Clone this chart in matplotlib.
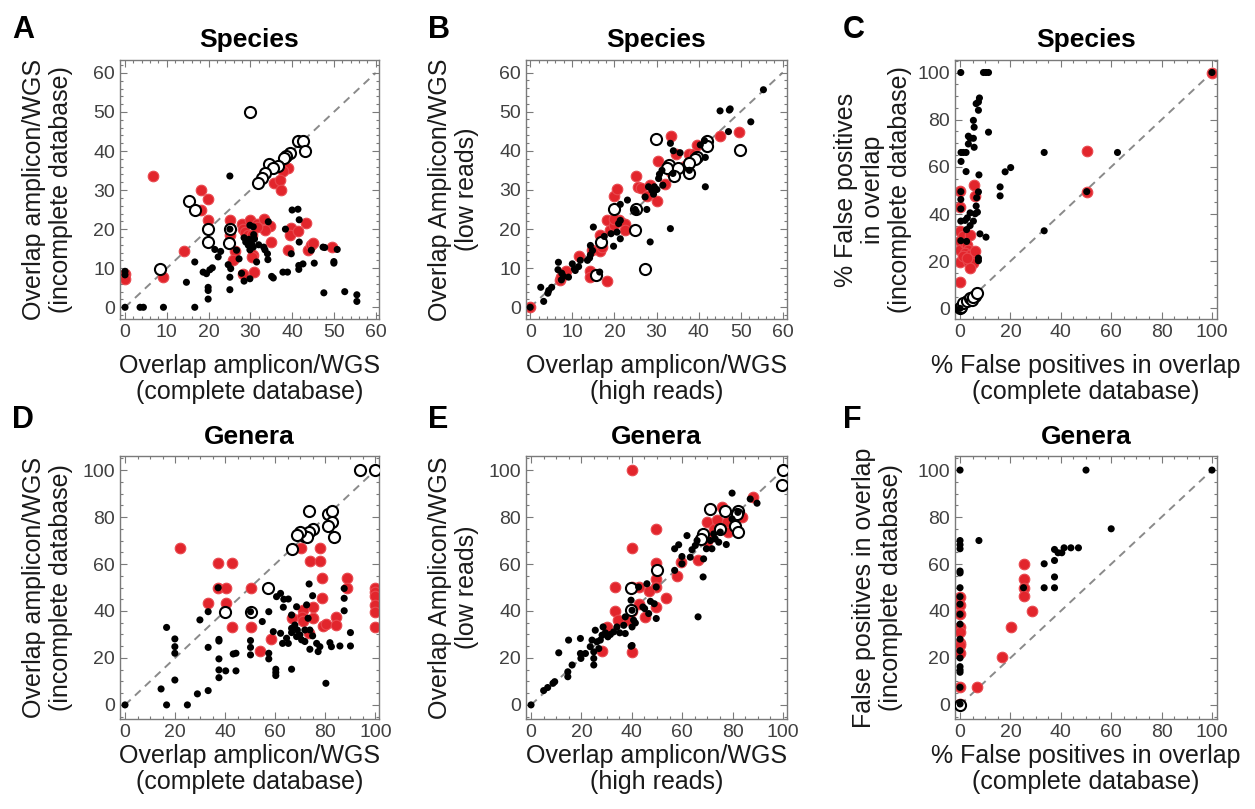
import matplotlib.pyplot as plt
from matplotlib.ticker import MultipleLocator

plt.rcParams['font.family'] = ['Liberation Sans', 'DejaVu Sans']

# ---- data: (x, y) pairs ----
# panel A: species, complete vs incomplete database
a_black = [(0, 0), (3.6, 0), (4.4, 0), (9.2, 0), (16.7, 0), (25.1, 33.6), (40, 24.9), (41.4, 25.1),
           (41.7, 22.4), (34.3, 21.9), (38.4, 20), (29.9, 21), (30.7, 20.6), (30.8, 18.6), (29.7, 17.4),
           (28.9, 16.7), (30.3, 16.3), (29.5, 15.9), (30.7, 15.4), (29.9, 14.7), (33.2, 15.4), (33.5, 14.7),
           (34.1, 13.7), (34.2, 12.2), (41.7, 16.7), (39.8, 13.7), (44.6, 14.6), (47.4, 15.4), (47.8, 15.3),
           (50.8, 14.8), (21.5, 14.8), (22.3, 12.9), (22.9, 14.3), (16.7, 11.6), (24.7, 10.9), (25.3, 9.9),
           (26.7, 14.6), (27.3, 12.4), (31.5, 11.6), (14.7, 6.4), (18.7, 9), (19.5, 8.6), (20.3, 9.6),
           (20.9, 10.1), (19.9, 5.1), (19.9, 4.3), (19.9, 2.1), (25.1, 4.5), (25.1, 7.7), (27.9, 8.7),
           (28.5, 6.7), (29.9, 7.3), (35.1, 7.9), (35.5, 7.5), (37.8, 9), (38.9, 9), (41.6, 10.7),
           (42.6, 11.1), (41.6, 9.7), (45.3, 11.3), (50, 11.7), (50, 11.3), (47.6, 3.7), (52.6, 4),
           (55.5, 3.2), (55.5, 1.5), (0, 9.2), (0, 8.3), (25.1, 20), (31, 17.5), (32, 16), (28.5, 17.8)]
a_red = [(6.6, 33.6), (18.1, 30), (19.9, 27.7), (18.3, 25), (19.9, 22.4), (19.9, 20), (14.1, 14.3),
         (9.2, 7.7), (0, 8.6), (0, 7.3), (38.9, 35.7), (37.8, 35), (35.7, 31.9), (37, 32.6), (37.4, 30),
         (25.1, 22.4), (25.1, 18.4), (28.1, 21.3), (28.3, 20.1), (29.9, 22.4), (31.5, 21.3), (33.2, 22.7),
         (34.7, 20.7), (33.5, 19.7), (39.7, 20.3), (39.4, 18.4), (41.3, 19.5), (43.4, 21.7), (34.9, 16.7),
         (26.3, 14.3), (25.9, 12), (30.7, 13.3), (30.3, 12.9), (30.9, 9), (28.3, 8.4), (28.7, 19.3),
         (29.5, 18.6), (38.9, 14.6), (43.7, 14.6), (44.6, 15.9), (45, 16.5), (49.6, 15.4), (30.4, 18.4),
         (31.5, 20.5)]
a_open = [(30, 50), (41.5, 42.5), (42.5, 42.5), (43, 40), (39.4, 39.6), (38.5, 38.7), (38, 38.2),
          (36.7, 36.2), (34.5, 36.8), (35.5, 35.6), (33.5, 34.3), (32.7, 33), (31.9, 31.9), (15.4, 27.2),
          (16.7, 25), (19.9, 20), (25.1, 20), (19.9, 16.7), (24.9, 16.5), (8.4, 9.9)]

# panel B: species, high vs low reads
b_black = [(0, 0), (3.2, 1.5), (2.5, 5.1), (4.4, 4.3), (5.1, 5.1), (4.2, 3.6), (6.7, 11.5), (6.6, 9.6),
           (7.5, 8.7), (7.9, 7.9), (9.1, 7.7), (7.4, 7), (10, 11.1), (10.5, 9.8), (11.5, 10.4), (11.9, 12),
           (10.7, 9.4), (13.6, 12), (14.3, 13.4), (14.3, 15.8), (14.8, 14.5), (14.1, 12.6), (15, 20.5),
           (16.5, 9), (17.6, 18.1), (19.2, 18.8), (19.8, 15.6), (21.4, 17.5), (20.6, 19.2), (21.4, 22.2),
           (21, 21.4), (21.4, 26.3), (23.1, 27.4), (25.2, 24.4), (24.9, 25), (28.5, 16.7), (27.7, 25),
           (27.3, 28.2), (28.1, 30.8), (28.9, 29.9), (29.5, 30.8), (30.1, 30.1), (29.3, 28.9), (30.5, 32.9),
           (30.7, 34), (31.3, 35), (31.5, 31.2), (33.3, 20.1), (33.9, 34.2), (33.3, 41.9), (34, 40),
           (35.6, 39.5), (37.8, 35), (40.4, 41.5), (41.6, 38.3), (41.6, 30.8), (41.4, 42.6), (45.1, 50.2),
           (47.3, 50.4), (47.5, 50.7), (47.1, 44.9), (52.4, 47.4), (55.4, 55.6)]
b_red = [(0, 0), (7.1, 7), (8.5, 9.2), (7.3, 7.7), (11.7, 13.1), (14.3, 9.2), (14.1, 7.7), (18.2, 6.7),
         (14.6, 14.7), (16.6, 14.5), (17, 15.4), (16.6, 18.4), (18.2, 22.4), (19, 19.7), (20, 20.9),
         (21, 22.2), (22.6, 21.4), (22.4, 19.7), (19.8, 22.6), (20, 28.5), (20.6, 30.2), (25.1, 25),
         (25.1, 33.5), (25.7, 30.8), (26.4, 30.6), (28.5, 31.2), (30.1, 27.2), (27.7, 28.5), (32.1, 31.6),
         (30.3, 37.4), (33.4, 43.8), (34.7, 39.1), (33.5, 34.6), (36.7, 36.2), (37.8, 39.1), (39, 39.3),
         (39.6, 41.5), (45, 43.8), (49.6, 44.9)]
b_open = [(29.9, 43), (42, 42.6), (42.1, 41.3), (49.9, 40.2), (39.6, 38.5), (39.2, 38), (37.8, 36.8),
          (37.8, 34.2), (32.9, 36.3), (32.5, 35.7), (35.2, 35.5), (34.2, 33.5), (20, 25), (25.1, 25.2),
          (24.9, 19.8), (16.8, 16.7), (15.7, 8.3), (27.3, 9.8)]

# panel C: species, % false positives
c_black = [(0.3, 100), (9.3, 100), (10.3, 100), (11.3, 100), (100, 100), (7.7, 89.2), (7.3, 87.5),
           (6.4, 86.8), (7.3, 84), (5.3, 79.7), (5.6, 76.8), (5.3, 72.1), (5.6, 68.3), (3.3, 73), (4, 72.1),
           (3.3, 69.7), (11.3, 74.7), (0.4, 66.1), (1.3, 66.1), (2.4, 66.1), (0.4, 62.3), (2.4, 58),
           (7.5, 56.6), (17.9, 57.9), (20.1, 59.7), (15.9, 51.5), (15.9, 47.7), (33.4, 66.1), (62.5, 66.1),
           (33.4, 32.9), (50.3, 49.5), (0.3, 49.5), (0.3, 46.2), (0.3, 42.2), (0.3, 37), (0.3, 28.7),
           (2, 37.3), (2.9, 38.4), (4, 40.5), (2.6, 33.4), (4, 35.1), (5.3, 37), (6, 40.1), (6.4, 43.4),
           (6.6, 46.9), (7.3, 49.4), (6.9, 40.8), (7.9, 31.6), (10.3, 30.2), (7.3, 21.3), (7.3, 20.2),
           (2.6, 28.4), (0, 0)]
c_red = [(0, 49.8), (0, 43.1), (0, 32.7), (0, 28.4), (0, 24.9), (0, 19.6), (0, 11), (1.3, 30.6),
         (2, 27.7), (2.6, 27), (4, 31.3), (3.3, 24.9), (2, 23.5), (4, 22.8), (4.6, 20.6), (3.3, 19.9),
         (5.3, 19.2), (4, 17.1), (1.3, 22.1), (2.6, 21.4), (6, 24.2), (5.6, 52.2), (6, 47.7), (50.3, 66.6),
         (50.3, 49.5), (100, 100)]
c_open = [(0, 0), (0.4, 0.7), (1.3, 2.1), (2.6, 3.3), (4, 4.3), (4.6, 3.6), (6, 5.3), (5, 5), (6.6, 6.4)]

# panel D: genera, complete vs incomplete database
d_black = [(0, 0), (16.6, 0), (24.9, 0), (14.4, 6.8), (19.9, 10.6), (16.6, 33), (19.9, 28.1), (19.9, 24.8),
           (19.9, 22), (28.9, 4.7), (33.2, 6.1), (29.9, 36.2), (33.2, 39.7), (33.2, 24.5), (37.2, 49.9),
           (37.5, 27.9), (37.5, 27.2), (37.5, 19.6), (37.5, 14.9), (37.5, 11.6), (40.2, 14.5), (44.3, 14.5),
           (43.2, 21.7), (44.3, 22), (50.1, 27.4), (50.1, 24.5), (50.1, 21.3), (57.4, 22), (57.4, 19.6),
           (54.8, 35.5), (57.4, 39.7), (59.2, 31.2), (60.5, 46.1), (62.1, 47.5), (63.4, 45), (65.2, 45.1),
           (63.2, 41.6), (60.2, 15.2), (60.2, 13.8), (60.2, 12.5), (66.5, 15.2), (62.1, 30.5), (62.9, 26.2),
           (64.5, 28.4), (65.2, 26.2), (66.5, 30.8), (66.5, 38.3), (67.8, 34), (68.5, 41.8), (68.8, 31.9),
           (69.8, 29.8), (70.5, 27.7), (71.8, 27), (72.5, 42.6), (73.1, 36.9), (73.8, 31.9), (74.9, 29.4),
           (73.8, 23.7), (76.5, 26.2), (77.1, 22.7), (77.8, 24.8), (81.8, 26.5), (82.4, 24.8), (85.8, 25.1),
           (90, 30.8), (90, 25.1), (87.5, 49.6), (87.5, 40.1), (87.5, 45.4), (73.5, 51.5), (74.9, 46.5),
           (80.2, 9.2), (66.5, 32.6), (68.5, 29.1), (71.8, 31.9), (50.1, 39.7)]
d_red = [(21.9, 67), (37.2, 60.3), (42.6, 60.3), (37.2, 49.9), (40.2, 49.9), (33.2, 43.3), (40.2, 43.3),
         (42.6, 33.3), (50.1, 49.9), (50.1, 39.7), (50.1, 33.3), (53.9, 23), (58.2, 27.9), (70.1, 67),
         (77.8, 67), (73.8, 61.3), (77.8, 61.3), (78.7, 53.9), (78.7, 45.4), (75.1, 41.8), (75.1, 36.9),
         (71.1, 40.4), (70.5, 37.6), (71.1, 35.9), (66.5, 36.9), (73.5, 30.8), (79.1, 33.6), (80.2, 34.3),
         (84.2, 37.3), (84.2, 34), (88.7, 53.9), (88.7, 49.9), (100, 49.9), (100, 48.2), (100, 46.5),
         (100, 42.6), (100, 39.7), (100, 33.3)]
d_open = [(93.8, 100), (100, 100), (73.5, 82.6), (81.1, 81.1), (82.7, 82.6), (82.8, 78), (81.1, 76.2),
          (83.5, 71.3), (75.1, 74.9), (73.5, 73.8), (71.5, 71.9), (72.5, 71.6), (69.8, 73.8), (68.5, 72.3),
          (66.5, 66.4), (57.2, 49.9), (39.9, 39.7), (50.1, 39.7)]

# panel E: genera, high vs low reads
e_black = [(0, 0), (5, 6.1), (6.6, 7.4), (8.7, 9.2), (9.4, 9.9), (11, 22.2), (14.6, 14.1), (14.6, 12),
           (14.9, 27.6), (16.3, 17), (19.6, 28.3), (19.6, 21.9), (19.8, 19.8), (21.6, 21.9), (23.5, 24.8),
           (24.2, 27.6), (24.9, 22.6), (24.9, 17), (25.5, 31.8), (26.2, 26.9), (26.9, 24), (27.5, 27.6),
           (28.6, 33.2), (29.5, 30.7), (31.5, 30), (32.8, 31.1), (34.1, 33.2), (35.2, 30.7), (37.4, 30.4),
           (37.4, 37.5), (39.7, 25), (39.7, 44.6), (40.7, 36.1), (41.4, 34.9), (40.1, 33.2), (42.7, 50.2),
           (44.4, 41.7), (45.1, 41), (46, 51.6), (46.7, 38.9), (48.9, 43.1), (49.7, 50.2), (49.7, 36.8),
           (57, 66.5), (58.6, 68.2), (57, 57.3), (59.9, 63.2), (59.9, 60.1), (61.9, 72.1), (63.2, 62.9),
           (63.9, 66.1), (65.2, 67.9), (65.9, 70), (66.3, 37.5), (68.3, 54.5), (68.5, 62.2), (69.6, 66.5),
           (71.2, 70), (72.5, 72.8), (71.8, 66.5), (73.1, 70.7), (74.5, 69.3), (75.1, 73.6), (77.5, 68.3),
           (79.8, 90.2), (79.8, 79.2), (82.1, 82), (87, 87.7), (89.7, 85.9), (24.9, 19.8), (28.2, 29.7),
           (36.8, 33.9), (47.4, 44.1), (40.1, 40.3), (40.1, 25.3), (30.5, 29)]
e_red = [(100, 100), (40.1, 100), (49.7, 75), (40.1, 66.9), (49.7, 60.4), (49.7, 53.7), (49.7, 50.2),
         (49.7, 41.7), (33.2, 50.2), (33.2, 39.9), (40.1, 50.2), (40.1, 39.9), (40.1, 22.6), (53.7, 45.5),
         (57.9, 54.7), (59.7, 60.8), (66.3, 61.8), (42.7, 43.1), (45.4, 37.5), (42.7, 50.2), (46.7, 48.5),
         (38.1, 36.1), (34.4, 36.1), (30.2, 33.2), (28.2, 22.9), (69.8, 77.8), (71.2, 71.4), (72.5, 74.7),
         (73.8, 78.9), (75.9, 84.4), (77.8, 77.8), (78, 73.6), (83.7, 79.9), (88.1, 88.4), (69.8, 70)]
e_open = [(100, 100), (99.6, 93.8), (71.2, 83.5), (77.1, 82.5), (82.1, 82.7), (81.7, 81.3), (74.9, 75),
          (81.1, 76.4), (82.1, 73.5), (68.3, 72.6), (67.5, 70.7), (50, 57.3), (39.7, 49.9), (39.7, 40.3)]

# panel F: genera, false positives
f_black = [(0, 100), (50, 100), (100, 100), (60, 75), (7.5, 70), (0, 70), (0, 68.2), (0, 66.5), (0, 57),
           (0, 56.2), (0, 49.9), (0, 46.1), (0, 42.9), (0, 38.6), (0, 34.4), (0, 28), (0, 23.1), (0, 20),
           (0, 16.3), (0, 14.9), (0, 13.9), (0, 7.5), (0, 0.4), (33.4, 60.1), (37.5, 66.2), (37.5, 61.5),
           (37.5, 54.5), (37.5, 49.9), (33.4, 49.9), (38.9, 64.8), (40.4, 64.8), (41.3, 66.9), (44, 66.9),
           (47, 66.9), (25.2, 49.9)]
f_red = [(0, 46), (0, 42.4), (0, 38.9), (0, 33.2), (0, 31.1), (0, 26.2), (0, 25.5), (0, 22), (0, 7.5),
         (0, 0.4), (25.2, 60.1), (25.2, 53.7), (25.2, 49.9), (25.2, 46.3), (28.5, 40), (20.1, 33.2),
         (16.8, 20.2), (6.6, 7.5)]
f_open = [(0, 0)]

RED = '#e2252c'
W, H = 1255, 809

fig = plt.figure(figsize=(W / 100, H / 100), dpi=100)


def px_axes(left, top, right, bottom):
    return fig.add_axes([left / W, 1 - bottom / H, (right - left) / W, (bottom - top) / H])


def panel(ax, black, red, hollow, xlim, ylim, top, major, minor, title, xlabel, ylabel,
          ylab_px, xlab_px):
    ax.plot([0, top], [0, top], ls=(0, (4, 3)), color='#8a8a8a', lw=1.4, zorder=1)
    ax.scatter(*zip(*red), s=58, facecolor=RED, edgecolor='#e9484e', lw=0.8, zorder=2)
    ax.scatter(*zip(*hollow), s=64, facecolor='white', edgecolor='black', lw=1.5, zorder=3)
    ax.scatter(*zip(*black), s=26, facecolor='black', edgecolor='none', zorder=4)
    ax.set_xlim(*xlim)
    ax.set_ylim(*ylim)
    for axis in (ax.xaxis, ax.yaxis):
        axis.set_major_locator(MultipleLocator(major))
        axis.set_minor_locator(MultipleLocator(minor))
    ax.tick_params(which='both', direction='in', top=True, right=True, color='#7a7a7a',
                   labelcolor='#404040', labelsize=14, pad=3.5, width=0.8)
    ax.tick_params(which='major', length=5)
    ax.tick_params(which='minor', length=2.5)
    for sp in ax.spines.values():
        sp.set_color('#7a7a7a')
        sp.set_linewidth(1.0)
    ax.set_title(title, fontsize=19, fontweight='bold', pad=9)
    ax.set_xlabel(xlabel, fontsize=18, color='#1a1a1a', linespacing=1.08)
    ax.set_ylabel(ylabel, fontsize=18, color='#1a1a1a', linespacing=1.15)
    # place labels in pixel offsets from the axes frame
    bb = ax.get_position()
    ax.xaxis.set_label_coords(0.5, xlab_px / (bb.height * H))
    ax.yaxis.set_label_coords(ylab_px / (bb.width * W), 0.5)


axA = px_axes(120, 60, 379, 319)
axB = px_axes(526, 60, 787, 319)
axC = px_axes(955, 60, 1217, 319)
axD = px_axes(120, 456, 379, 719)
axE = px_axes(526, 456, 787, 719)
axF = px_axes(955, 456, 1217, 719)

panel(axA, a_black, a_red, a_open, (-1.2, 60.8), (-3, 63.3), 60, 10, 2, 'Species',
      'Overlap amplicon/WGS\n(complete database)', 'Overlap amplicon/WGS\n(incomplete database)',
      -47, -35)
panel(axB, b_black, b_red, b_open, (-1, 61), (-3, 63.2), 60, 10, 2, 'Species',
      'Overlap amplicon/WGS\n(high reads)', 'Overlap Amplicon/WGS\n(low reads)', -47, -35)
panel(axC, c_black, c_red, c_open, (-2, 102), (-4.5, 105.3), 100, 20, 5, 'Species',
      '% False positives in overlap\n(complete database)',
      '% False positives\nin overlap\n(incomplete database)', -43, -35)
panel(axD, d_black, d_red, d_open, (-2, 101.4), (-6, 106), 100, 20, 5, 'Genera',
      'Overlap amplicon/WGS\n(complete database)', 'Overlap amplicon/WGS\n(incomplete database)',
      -47, -25)
panel(axE, e_black, e_red, e_open, (-2, 101.6), (-6, 106), 100, 20, 5, 'Genera',
      'Overlap amplicon/WGS\n(high reads)', 'Overlap Amplicon/WGS\n(low reads)', -47, -25)
panel(axF, f_black, f_red, f_open, (-2, 102), (-6, 106), 100, 20, 5, 'Genera',
      '% False positives in overlap\n(complete database)',
      'False positives in overlap\n(incomplete database)', -52, -25)

# panel letters
for letter, x, y in [('A', 12, 38), ('B', 428, 38), ('C', 843, 38),
                     ('D', 12, 428), ('E', 428, 428), ('F', 843, 428)]:
    fig.text(x / W, 1 - y / H, letter, fontsize=22, fontweight='bold', va='baseline')

fig.savefig('out.png', dpi=100)
